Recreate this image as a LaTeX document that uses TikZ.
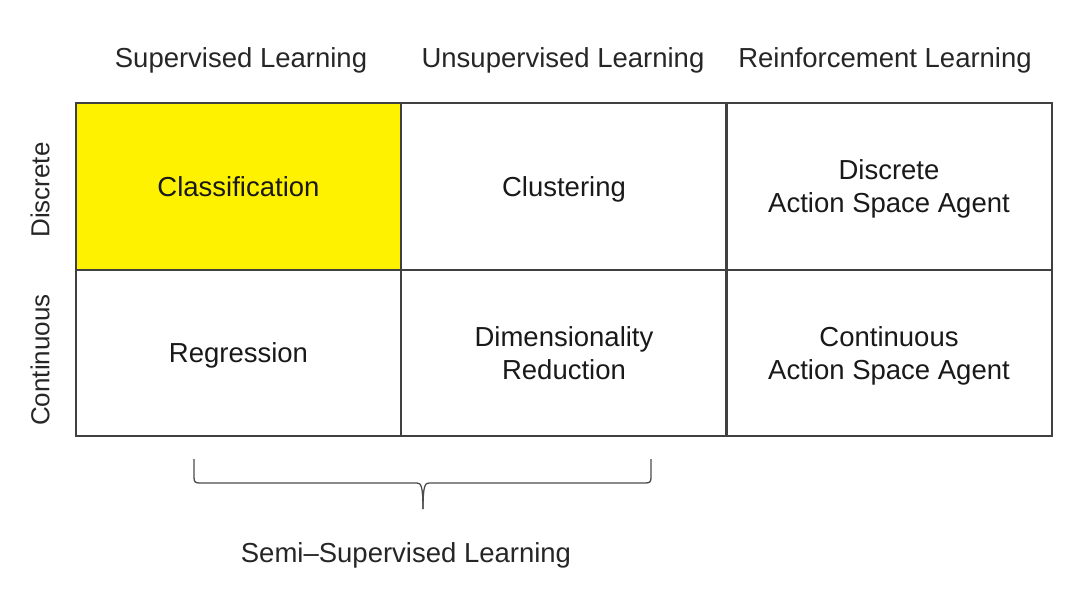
\documentclass[tikz,border=0pt]{standalone}
\usepackage{fontspec}
\setmainfont{Liberation Sans}
\begin{document}
\begin{tikzpicture}[x=1pt,y=-1pt,
  cell/.style={draw=black!75,line width=1.6pt,minimum width=325.5pt,minimum height=166.5pt,
    inner sep=0pt,align=center,text=black!90,text depth=0pt,font=\fontsize{27.5}{33}\selectfont},
  head/.style={text=black!85,font=\fontsize{27.5}{30}\selectfont,inner sep=0pt},
  side/.style={text=black!85,font=\fontsize{26}{30}\selectfont,inner sep=0pt,rotate=90},
  bracepath/.style={draw=black!70,line width=1.3pt,line join=round}]
\useasboundingbox (0,0) rectangle (1071,594);
% grid of cells
\node[cell,fill=yellow] (c11) at (238.5,186.5) {Classification};
\node[cell] (c12) at (564,186.5) {Clustering};
\node[cell] (c13) at (889,186.5) {Discrete\\Action Space Agent};
\node[cell] (c21) at (238.5,353) {Regression};
\node[cell] (c22) at (564,353) {Dimensionality\\Reduction};
\node[cell] (c23) at (889,353) {Continuous\\Action Space Agent};
% column headers
\node[head] (h1) at (241,60) {Supervised Learning};
\node[head] (h2) at (563,60) {Unsupervised Learning};
\node[head] (h3) at (885,60) {Reinforcement Learning};
% row labels
\node[side] (r1) at (40,190) {Discrete};
\node[side] (r2) at (40,360) {Continuous};
% brace under the first two columns
\coordinate (bl) at (194,459);
\coordinate (br) at (651,459);
\coordinate (bt) at (423,509);
\draw[bracepath] (bl) -- ++(0,18) .. controls +(0,5) and +(-5,0) .. ++(6,6) -- (417,483)
  .. controls (421,483) and (423,486) .. (bt);
\draw[bracepath] (br) -- ++(0,18) .. controls +(0,5) and +(5,0) .. ++(-6,6) -- (429,483)
  .. controls (425,483) and (423,486) .. (bt);
\node[head] (semi) at (406,555) {Semi–Supervised Learning};
\end{tikzpicture}
\end{document}
